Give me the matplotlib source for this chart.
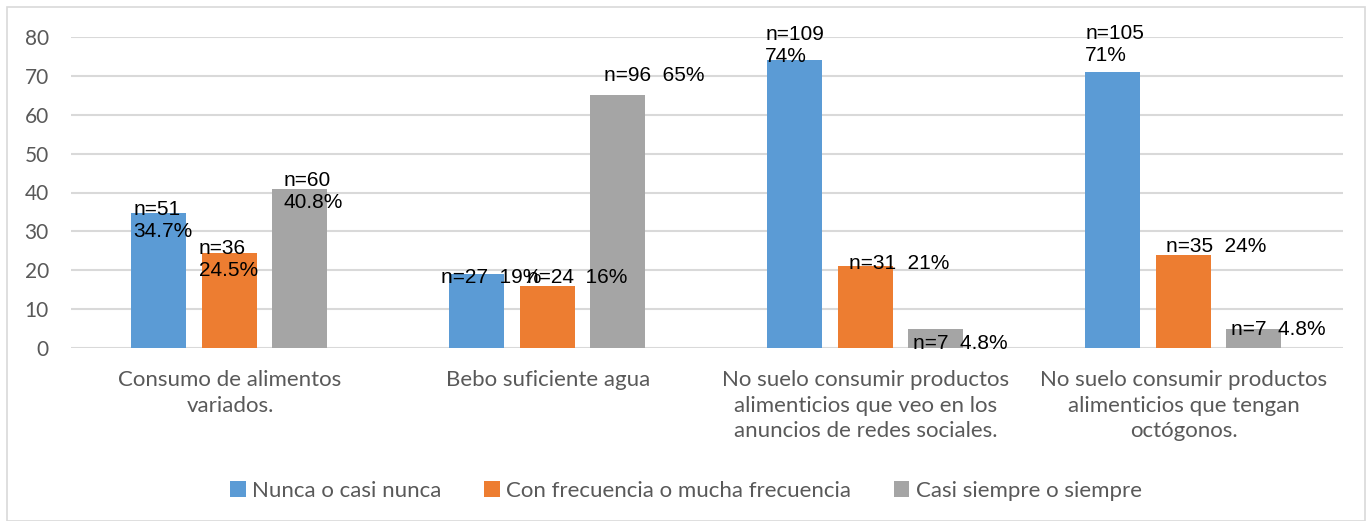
import matplotlib.pyplot as plt
from matplotlib.patches import Rectangle
import numpy as np

categories = [
    "Consumo de alimentos\nvariados.",
    "Bebo suficiente agua",
    "No suelo consumir productos\nalimenticios que veo en los\nanuncios de redes sociales.",
    "No suelo consumir productos\nalimenticios que tengan\noctógonos.",
]
series_names = ["Nunca o casi nunca", "Con frecuencia o mucha frecuencia", "Casi siempre o siempre"]
nunca = [34.7, 19, 74, 71]
frecuencia = [24.5, 16, 21, 24]
siempre = [40.8, 65, 4.8, 4.8]
nunca_labels = ["n=51\n34.7%", "n=27  19%", "n=109\n74%", "n=105\n71%"]
frecuencia_labels = ["n=36\n24.5%", "n=24  16%", "n=31  21%", "n=35  24%"]
siempre_labels = ["n=60\n40.8%", "n=96  65%", "n=7  4.8%", "n=7  4.8%"]
yticks = [0, 10, 20, 30, 40, 50, 60, 70, 80]

colors = ["#5b9bd5", "#ed7d31", "#a5a5a5"]
# label offsets in pixels from the bar's top-left corner (dx, dy of text centre)
offsets = [
    [(2, -7), (-8, -3), (-2, 15), (0, 27)],
    [(-3, -7), (7, 8), (11, 3), (10, 8)],
    [(11, -2), (14, 20), (5, -14), (5, 0)],
]

W, H = 1372, 521
fig = plt.figure(figsize=(W / 100, H / 100), dpi=100)
fig.patches.append(Rectangle((7 / W, 0), 1 - 14 / W, 1 - 7 / H, transform=fig.transFigure,
                             fill=False, edgecolor="#d9d9d9", linewidth=1.2))
ax = fig.add_axes([71 / W, 1 - 348 / H, (1343 - 71) / W, (348 - 37) / H])

x = np.arange(len(categories))
width = 0.173
step = 0.222
all_vals = [nunca, frecuencia, siempre]
all_labels = [nunca_labels, frecuencia_labels, siempre_labels]
for i, (vals, labs) in enumerate(zip(all_vals, all_labels)):
    pos = x + (i - 1) * step - 0.002
    ax.bar(pos, vals, width, color=colors[i], label=series_names[i], zorder=2)
    for j in range(len(categories)):
        dx, dy = offsets[i][j]
        ax.annotate(labs[j], xy=(pos[j] - width / 2, vals[j]), xytext=(dx * 0.72, dy * 0.72),
                    textcoords="offset points", ha="left", va="center", fontsize=15,
                    family="Liberation Sans", color="black", linespacing=1.2, zorder=3)

ax.set_xlim(-0.5, len(categories) - 0.5)
ax.set_ylim(0, 80)
ax.set_yticks(yticks)
ax.set_xticks(x)
ax.set_xticklabels(categories, fontsize=16, color="#595959", family="Lato", linespacing=1.35)
ax.tick_params(axis="y", length=0, pad=16, labelsize=15, labelcolor="#595959")
ax.tick_params(axis="x", length=0, pad=16)
for t in ax.get_yticklabels():
    t.set_family("Lato")
ax.grid(axis="y", color="#d9d9d9", linewidth=1.5, zorder=0)
for s in ax.spines.values():
    s.set_visible(False)

leg = fig.legend(loc="center", bbox_to_anchor=(0.5, 1 - 491 / H), ncol=3, frameon=False,
                 prop={"family": "Lato", "size": 16}, handlelength=0.7, handleheight=0.7,
                 handletextpad=0.3, columnspacing=1.9)
for t in leg.get_texts():
    t.set_color("#595959")

fig.savefig("out.png", dpi=100)
